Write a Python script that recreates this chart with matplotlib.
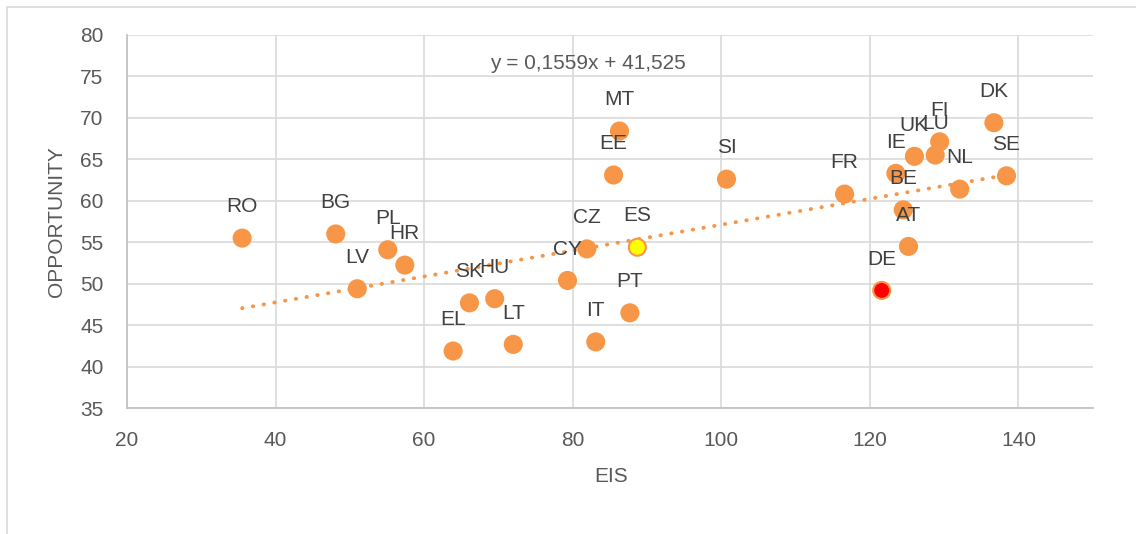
import matplotlib
matplotlib.use("Agg")
import numpy as np
import matplotlib.pyplot as plt
from matplotlib.patches import Rectangle

# country codes with EIS score and OPPORTUNITY score
countries = ["RO", "BG", "PL", "LV", "HR", "SK", "HU", "EL", "LT", "CY", "CZ", "ES",
             "PT", "IT", "MT", "EE", "SI", "FR", "IE", "UK", "LU", "FI", "NL", "DK",
             "SE", "BE", "AT", "DE"]
eis = [35.5, 48.1, 55.1, 51.0, 57.4, 66.1, 69.5, 63.9, 72.0, 79.3, 81.9, 88.7,
       87.7, 83.1, 86.3, 85.5, 100.7, 116.6, 123.5, 126.0, 128.8, 129.4, 132.1, 136.7,
       138.4, 124.5, 125.2, 121.6]
opportunity = [55.5, 56.0, 54.1, 49.4, 52.25, 47.7, 48.2, 41.9, 42.7, 50.4, 54.2, 54.4,
               46.5, 43.0, 68.4, 63.1, 62.6, 60.8, 63.3, 65.35, 65.5, 67.1, 61.4, 69.4,
               63.0, 58.9, 54.5, 49.2]

# trendline as printed on the chart
slope = 0.1559
intercept = 41.525
eq_text = "y = 0,1559x + 41,525"

highlight = {"ES": "#FFFF00", "DE": "#FF0000"}

orange = "#F79646"
txt_dark = "#404040"
txt_grey = "#595959"
grid_col = "#D9D9D9"

plt.rcParams["font.family"] = ["Liberation Sans", "DejaVu Sans"]

fig = plt.figure(figsize=(11.36, 5.34), dpi=100)
ax = fig.add_axes([127 / 1136, 1 - 408.3 / 534, (1092.7 - 127) / 1136, (408.3 - 34.7) / 534])

# outer chart border
fig.patches.append(Rectangle((7 / 1136, -0.1), 2, 1 - 7 / 534 + 0.1, transform=fig.transFigure,
                             fill=False, edgecolor=grid_col, lw=1.2))

ax.set_xlim(20, 150)
ax.set_ylim(35, 80)
ax.set_xticks(np.arange(20, 141, 20))
ax.set_yticks(np.arange(35, 81, 5))
ax.grid(True, color=grid_col, lw=1.2)
ax.set_axisbelow(True)
for s in ["top", "right"]:
    ax.spines[s].set_visible(False)
for s in ["left", "bottom"]:
    ax.spines[s].set_color("#BFBFBF")
    ax.spines[s].set_linewidth(1.2)
ax.tick_params(length=0, labelsize=15, labelcolor=txt_grey)
ax.tick_params(axis="y", pad=17)
ax.tick_params(axis="x", pad=16)

# trendline
xs = np.array([min(eis), max(eis)])
ax.plot(xs, slope * xs + intercept, color=orange, lw=2.8, linestyle=(0, (0.1, 2.7)),
        dash_capstyle="round", zorder=2)

colors = [highlight.get(c, orange) for c in countries]
ax.scatter(eis, opportunity, s=150, c=colors, edgecolors=orange, linewidths=1.5, zorder=3)

for c, x, y in zip(countries, eis, opportunity):
    ax.annotate(c, (x, y), xytext=(0, 22.5), textcoords="offset points",
                ha="center", va="center", fontsize=15, color=txt_dark, zorder=4)

ax.text(82.0, 76.5, eq_text, ha="center", va="center", fontsize=15, color=txt_grey)

fig.text(610.7 / 1136, 1 - 476.7 / 534, "EIS", ha="center", va="center", fontsize=15, color=txt_grey)
fig.text(57 / 1136, 1 - 222 / 534, "OPPORTUNITY", ha="center", va="center", rotation=90,
         fontsize=15, color=txt_grey)

fig.savefig("out.png", dpi=100)
